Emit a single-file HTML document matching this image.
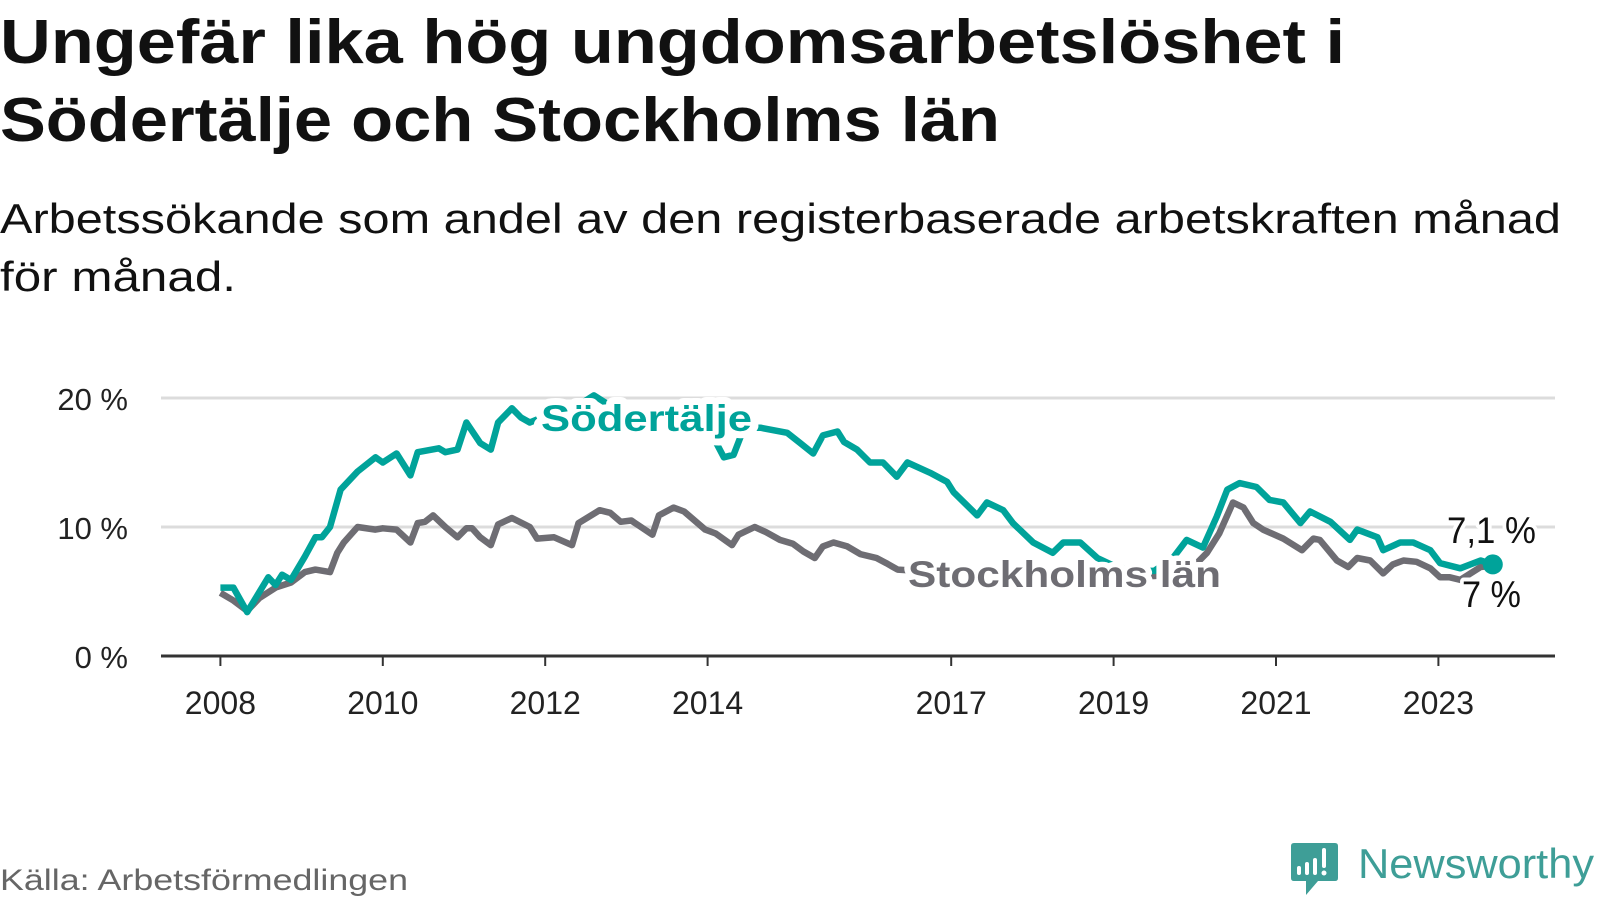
<!DOCTYPE html>
<html><head><meta charset="utf-8"><style>
html,body{margin:0;padding:0;background:#fff;}
svg{display:block;font-family:"Liberation Sans",sans-serif;}
</style></head><body>
<svg id="chart" width="1600" height="900" viewBox="0 0 1600 900">
<text x="0" y="63" font-size="62" font-weight="bold" fill="#111" textLength="1345" lengthAdjust="spacingAndGlyphs">Ungefär lika hög ungdomsarbetslöshet i</text>
<text x="0" y="141" font-size="62" font-weight="bold" fill="#111" textLength="1000" lengthAdjust="spacingAndGlyphs">Södertälje och Stockholms län</text>
<text x="0" y="233" font-size="42" fill="#111" textLength="1561" lengthAdjust="spacingAndGlyphs">Arbetssökande som andel av den registerbaserade arbetskraften månad</text>
<text x="0" y="291" font-size="42" fill="#111" textLength="236" lengthAdjust="spacingAndGlyphs">för månad.</text>
<g id="grid"></g>
<g id="yt"></g>
<g id="xt"></g>
<g id="lines"></g>
<g id="labels"></g>
<text x="0" y="890" font-size="30" fill="#666" textLength="408" lengthAdjust="spacingAndGlyphs">Källa: Arbetsförmedlingen</text>
<g>
<path d="M1294 843 H1335 Q1338 843 1338 846 V878 Q1338 881 1335 881 H1318 L1306 895 L1306 881 H1294 Q1291 881 1291 878 V846 Q1291 843 1294 843 Z" fill="#3e9e97"/>
<rect x="1297" y="866" width="4" height="9" rx="2" fill="#fff"/>
<rect x="1305" y="862" width="4" height="13" rx="2" fill="#fff"/>
<rect x="1313" y="858" width="4" height="17" rx="2" fill="#fff"/>
<rect x="1322" y="848" width="4" height="20" rx="2" fill="#fff"/>
<circle cx="1324" cy="873" r="2.5" fill="#fff"/>
<text x="1358" y="878" font-size="42" fill="#3e9e97" textLength="236" lengthAdjust="spacingAndGlyphs">Newsworthy</text>
</g>
</svg>
<script>
const yTicks=[0,10,20];
const yTickLabels=["0 %","10 %","20 %"];
const xTicks=[2008,2010,2012,2014,2017,2019,2021,2023];
const xTickLabels=["2008","2010","2012","2014","2017","2019","2021","2023"];
const sodT=[2008.0,2008.16,2008.33,2008.59,2008.68,2008.76,2008.87,2009.04,2009.17,2009.25,2009.35,2009.48,2009.69,2009.91,2010.0,2010.17,2010.34,2010.43,2010.69,2010.77,2010.92,2011.03,2011.2,2011.33,2011.42,2011.59,2011.7,2011.81,2012.0,2012.3,2012.6,2012.9,2013.2,2013.5,2013.8,2014.0,2014.2,2014.32,2014.45,2014.65,2014.98,2015.14,2015.3,2015.42,2015.6,2015.68,2015.84,2016.0,2016.16,2016.33,2016.46,2016.74,2016.95,2017.03,2017.32,2017.44,2017.64,2017.76,2018.01,2018.25,2018.38,2018.59,2018.8,2019.0,2019.25,2019.5,2019.73,2019.9,2020.1,2020.27,2020.4,2020.55,2020.76,2020.92,2021.09,2021.3,2021.42,2021.67,2021.91,2022.0,2022.25,2022.32,2022.53,2022.69,2022.9,2023.02,2023.27,2023.52,2023.67];
const sodV=[5.3,5.3,3.4,6.1,5.5,6.3,5.9,7.7,9.2,9.2,10.0,12.9,14.3,15.4,15.0,15.7,14.0,15.8,16.1,15.8,16.0,18.1,16.5,16.0,18.1,19.2,18.5,18.1,18.6,19.0,20.2,19.0,18.6,18.9,18.5,17.8,15.4,15.6,17.7,17.7,17.3,16.5,15.7,17.1,17.4,16.6,16.0,15.0,15.0,13.9,15.0,14.2,13.5,12.7,10.9,11.9,11.3,10.3,8.8,8.0,8.8,8.8,7.6,7.0,6.6,6.6,7.6,9.0,8.4,10.8,12.9,13.4,13.1,12.1,11.9,10.3,11.2,10.4,9.0,9.8,9.2,8.2,8.8,8.8,8.2,7.2,6.8,7.4,7.1];
const stoT=[2008.0,2008.16,2008.33,2008.48,2008.68,2008.87,2009.04,2009.17,2009.35,2009.44,2009.52,2009.69,2009.91,2010.0,2010.17,2010.34,2010.43,2010.52,2010.62,2010.77,2010.92,2011.03,2011.1,2011.2,2011.33,2011.42,2011.59,2011.81,2011.9,2012.11,2012.33,2012.41,2012.67,2012.8,2012.93,2013.06,2013.32,2013.4,2013.58,2013.71,2013.97,2014.1,2014.3,2014.38,2014.58,2014.72,2014.89,2015.05,2015.18,2015.32,2015.42,2015.55,2015.72,2015.88,2016.08,2016.2,2016.34,2016.6,2017.0,2017.5,2018.0,2018.5,2019.0,2019.5,2019.9,2020.15,2020.3,2020.47,2020.6,2020.72,2020.84,2021.09,2021.32,2021.46,2021.54,2021.75,2021.89,2022.0,2022.16,2022.32,2022.44,2022.57,2022.73,2022.9,2023.02,2023.14,2023.27,2023.52,2023.67];
const stoV=[4.9,4.3,3.5,4.5,5.3,5.7,6.5,6.7,6.5,8.0,8.8,10.0,9.8,9.9,9.8,8.8,10.3,10.4,10.9,10.0,9.2,9.9,9.9,9.2,8.6,10.2,10.7,10.0,9.1,9.2,8.6,10.3,11.3,11.1,10.4,10.5,9.4,10.9,11.5,11.2,9.8,9.5,8.6,9.4,10.0,9.6,9.0,8.7,8.1,7.6,8.5,8.8,8.5,7.9,7.6,7.2,6.7,6.6,6.5,6.3,6.2,6.1,6.1,6.2,6.4,8.0,9.5,11.9,11.5,10.3,9.8,9.1,8.2,9.1,9.0,7.4,6.9,7.6,7.4,6.4,7.1,7.4,7.3,6.8,6.1,6.1,5.9,6.9,7.0];
const NS="http://www.w3.org/2000/svg";
const X0=220.4,PX_YEAR=81.2,Y0=656,PX_UNIT=12.9,XL=161,XR=1555;
function xs(t){return X0+(t-2008)*PX_YEAR;}
function ys(v){return Y0-v*PX_UNIT;}
function mk(tag,attrs,parent){const e=document.createElementNS(NS,tag);for(const k in attrs)e.setAttribute(k,attrs[k]);parent.appendChild(e);return e;}
const grid=document.getElementById('grid'),yt=document.getElementById('yt'),xt=document.getElementById('xt'),lines=document.getElementById('lines'),labels=document.getElementById('labels');
yTicks.forEach((v,i)=>{
  if(v!==0){const g=mk('line',{x1:XL,x2:XR,y1:ys(v),y2:ys(v),stroke:'#dcdcdc','stroke-width':3},grid);
  
  }
  const t=mk('text',{x:128,y:ys(v)+12,'font-size':31,'text-anchor':'end',fill:'#222'},yt);
  t.textContent=yTickLabels[i];
  
  
});
const ax=mk('line',{x1:XL,x2:XR,y1:Y0,y2:Y0,stroke:'#333','stroke-width':3},grid);


xTicks.forEach((y,i)=>{
  const tk=mk('line',{x1:xs(y),x2:xs(y),y1:Y0,y2:Y0+10,stroke:'#333','stroke-width':2},xt);
  
  
  const t=mk('text',{x:xs(y),y:714,'font-size':32,'text-anchor':'middle',fill:'#222'},xt);
  t.textContent=xTickLabels[i];
  
  
});
function path(T,V){return T.map((t,i)=>(i?'L':'M')+xs(t).toFixed(1)+' '+ys(V[i]).toFixed(1)).join(' ');}
const pSto=mk('path',{d:path(stoT,stoV),fill:'none',stroke:'#6e6d73','stroke-width':6.5,'stroke-linejoin':'round'},lines);


const pSod=mk('path',{d:path(sodT,sodV),fill:'none',stroke:'#00a39a','stroke-width':6.5,'stroke-linejoin':'round'},lines);


const dot=mk('circle',{cx:xs(sodT[sodT.length-1]),cy:ys(sodV[sodV.length-1]),r:10,fill:'#00a39a'},lines);


function lab(txt,x,y,fill,w,name,bold,sw){const t=mk('text',{x:x,y:y,'font-size':37,'font-weight':bold?'bold':'normal',fill:fill,stroke:'#fff','stroke-width':sw,'paint-order':'stroke','stroke-linejoin':'round',textLength:w,lengthAdjust:'spacingAndGlyphs'},labels);t.textContent=txt;

}
lab('Södertälje',541,431,'#00a39a',211,'sodertalje-label',true,14);
lab('Stockholms län',908,587,'#6e6d73',313,'stockholms-lan-label',true,11);
lab('7,1 %',1447,543,'#111',89,'sodertalje-end-value',false,8);
lab('7 %',1462,607,'#111',59,'stockholms-end-value',false,8);
</script>
</body></html>
